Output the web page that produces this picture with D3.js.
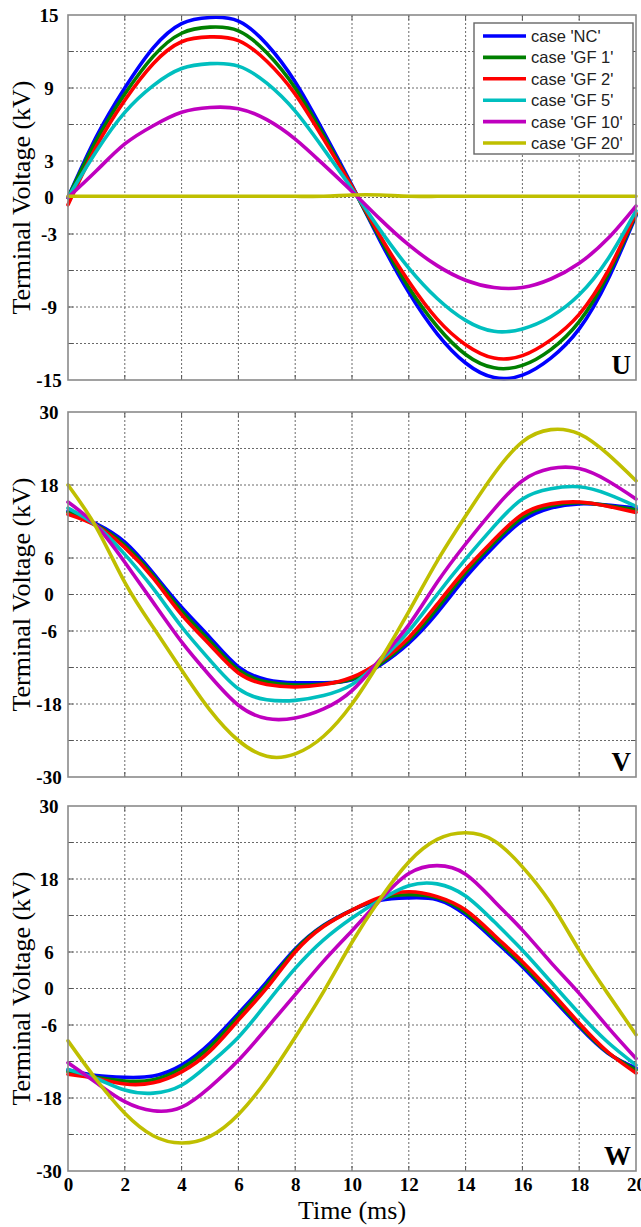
<!DOCTYPE html>
<html>
<head>
<meta charset="utf-8">
<script src="https://cdn.jsdelivr.net/npm/d3@7"></script>
<style>
  body { margin: 0; background: #ffffff; }
  svg { display: block; }
</style>
</head>
<body>
<svg id="chart"></svg>
<script>
// time samples (ms), read every 1 ms off the picture
const time = [0, 1, 2, 3, 4, 5, 6, 7, 8, 9, 10, 11, 12, 13, 14, 15, 16, 17, 18, 19, 20];

const cases = ["case 'NC'", "case 'GF 1'", "case 'GF 2'", "case 'GF 5'", "case 'GF 10'", "case 'GF 20'"];

// phase U (kV)
const uNC   = [0, 5.0, 9.0, 12.3, 14.3, 14.8, 14.5, 12.6, 9.5, 5.4, 1.0, -3.6, -7.8, -11.2, -13.6, -14.8, -14.6, -13.2, -10.8, -6.8, -1.5];
const uGF1  = [0, 4.7, 8.5, 11.6, 13.5, 14.0, 13.7, 11.9, 9.0, 5.1, 0.9, -3.4, -7.4, -10.6, -12.9, -14.0, -13.8, -12.5, -10.2, -6.4, -1.4];
const uGF2  = [-0.6, 4.2, 8.0, 11.0, 12.8, 13.2, 12.9, 11.2, 8.5, 4.8, 0.9, -3.2, -6.9, -10.0, -12.1, -13.2, -13.0, -11.7, -9.6, -6.1, -1.3];
const uGF5  = [0, 3.8, 7.0, 9.2, 10.6, 11.0, 10.8, 9.4, 7.1, 4.0, 0.7, -2.7, -5.8, -8.3, -10.1, -11.0, -10.8, -9.8, -8.0, -5.1, -1.1];
const uGF10 = [0, 2.2, 4.4, 5.9, 7.0, 7.4, 7.3, 6.4, 4.8, 2.7, 0.5, -1.8, -3.9, -5.6, -6.8, -7.4, -7.4, -6.7, -5.4, -3.4, -0.7];
const uGF20 = [0.1, 0.1, 0.1, 0.1, 0.1, 0.1, 0.1, 0.1, 0.1, 0.1, 0.2, 0.2, 0.1, 0.1, 0.1, 0.1, 0.1, 0.1, 0.1, 0.1, 0.1];

// phase V (kV)
const vNC   = [13.7, 11.6, 8.6, 3.5, -2.1, -7.1, -11.9, -14.0, -14.5, -14.5, -14.0, -11.6, -8.0, -3.0, 2.8, 7.9, 12.1, 14.2, 14.9, 14.7, 14.2];
const vGF1  = [13.5, 11.4, 8.1, 3.1, -2.7, -7.7, -12.4, -14.4, -14.9, -14.7, -13.9, -11.4, -7.5, -2.3, 3.6, 8.5, 12.7, 14.6, 15.1, 14.6, 13.9];
const vGF2  = [13.2, 11.3, 7.7, 2.7, -3.3, -8.3, -12.9, -14.8, -15.2, -14.8, -13.6, -11.0, -7.1, -1.6, 4.1, 9.0, 13.2, 14.9, 15.2, 14.5, 13.5];
const vGF5  = [14.2, 11.3, 6.6, 1.0, -5.3, -10.8, -15.5, -17.3, -17.4, -16.6, -14.8, -10.9, -6.0, 0.0, 5.8, 11.2, 15.7, 17.4, 17.7, 16.5, 14.5];
const vGF10 = [15.2, 11.3, 5.3, -1.3, -7.8, -13.4, -18.2, -20.4, -20.3, -18.8, -15.8, -10.6, -5.0, 2.0, 8.3, 14.0, 18.7, 20.7, 20.7, 18.7, 15.7];
const vGF20 = [18.0, 11.0, 2.0, -5.4, -12.4, -19.0, -24.0, -26.6, -26.2, -23.3, -18.0, -10.8, -2.8, 5.5, 12.9, 19.8, 25.1, 27.1, 26.4, 23.1, 18.7];

// phase W (kV)
const wNC   = [-13.4, -14.3, -14.6, -14.4, -12.6, -9.0, -4.1, 1.1, 6.5, 10.4, 12.9, 14.5, 14.9, 14.6, 12.1, 8.0, 3.6, -1.3, -6.3, -10.6, -13.1];
const wGF1  = [-13.7, -14.6, -15.2, -15.0, -13.1, -9.6, -4.6, 0.6, 6.3, 10.3, 12.9, 14.8, 15.4, 14.9, 12.5, 8.4, 4.0, -0.9, -6.0, -10.5, -13.4];
const wGF2  = [-14.1, -14.8, -15.7, -15.5, -13.7, -10.3, -5.2, 0.1, 6.0, 10.2, 12.9, 15.0, 15.9, 15.1, 12.9, 8.8, 4.4, -0.5, -5.7, -10.4, -13.9];
const wGF5  = [-13.3, -14.8, -16.7, -17.2, -15.9, -12.3, -8.0, -2.4, 3.3, 8.0, 11.6, 14.6, 16.9, 17.2, 15.2, 11.0, 6.3, 1.1, -4.1, -8.8, -12.6];
const wGF10 = [-12.2, -15.5, -18.6, -20.1, -19.5, -16.2, -11.8, -6.5, -1.0, 4.5, 9.5, 14.6, 18.9, 20.2, 18.8, 14.4, 9.6, 4.3, -0.8, -6.3, -11.5];
const wGF20 = [-8.6, -15.0, -20.5, -24.2, -25.4, -24.3, -20.7, -15.0, -8.0, -0.5, 7.6, 14.8, 20.8, 24.5, 25.6, 24.3, 20.0, 14.0, 6.3, -0.8, -7.6];

// tick labels
const uTicks = [-15, -9, -3, 0, 3, 9, 15];
const vwTicks = [-30, -18, -6, 0, 6, 18, 30];
const timeTicks = [0, 2, 4, 6, 8, 10, 12, 14, 16, 18, 20];

const layout = {
  width: 641,
  height: 1227,
  marginLeft: 68,
  marginRight: 5,
  panels: [{top: 15, bottom: 380}, {top: 412, bottom: 777}, {top: 806, bottom: 1171}]
};

const serif = "'Liberation Serif', 'Times New Roman', serif";
const sans = "'Liberation Sans', Arial, sans-serif";

const phases = [
  {name: "U", series: [uNC, uGF1, uGF2, uGF5, uGF10, uGF20], limit: 15, step: 3, ticks: uTicks},
  {name: "V", series: [vNC, vGF1, vGF2, vGF5, vGF10, vGF20], limit: 30, step: 6, ticks: vwTicks},
  {name: "W", series: [wNC, wGF1, wGF2, wGF5, wGF10, wGF20], limit: 30, step: 6, ticks: vwTicks}
];

const svg = d3.select("#chart")
  .attr("width", layout.width)
  .attr("height", layout.height);

const xScale = d3.scaleLinear()
  .domain([0, 20])
  .range([layout.marginLeft, layout.width - layout.marginRight]);

const colorScale = d3.scaleOrdinal()
  .domain(cases)
  .range(["#0000ff", "#008000", "#ff0000", "#00bfbf", "#bf00bf", "#bfbf00"]);

phases.forEach((p, i) => {
  const box = layout.panels[i];
  const x0 = xScale.range()[0], x1 = xScale.range()[1];

  const yScale = d3.scaleLinear()
    .domain([-p.limit, p.limit])
    .range([box.bottom, box.top]);

  const g = svg.append("g").attr("class", "panel-" + p.name);

  // dotted grid
  g.selectAll(".vgrid")
    .data(timeTicks.slice(1, -1))
    .join("line")
    .attr("class", "vgrid")
    .attr("x1", d => xScale(d)).attr("x2", d => xScale(d))
    .attr("y1", box.top).attr("y2", box.bottom)
    .attr("stroke", "#6a6a6a").attr("stroke-width", 1)
    .attr("stroke-dasharray", "2,2");

  const gridY = d3.range(-p.limit + p.step, p.limit, p.step);
  g.selectAll(".hgrid")
    .data(gridY)
    .join("line")
    .attr("class", "hgrid")
    .attr("x1", x0).attr("x2", x1)
    .attr("y1", d => yScale(d)).attr("y2", d => yScale(d))
    .attr("stroke", "#6a6a6a").attr("stroke-width", 1)
    .attr("stroke-dasharray", "2,2");

  // inner ticks on the frame
  const tickLen = 5;
  g.selectAll(".xtick")
    .data(timeTicks.slice(1, -1))
    .join("path")
    .attr("class", "xtick")
    .attr("d", d => `M${xScale(d)},${box.bottom}v${-tickLen}M${xScale(d)},${box.top}v${tickLen}`)
    .attr("stroke", "#555").attr("stroke-width", 1);
  g.selectAll(".ytick")
    .data(gridY)
    .join("path")
    .attr("class", "ytick")
    .attr("d", d => `M${x0},${yScale(d)}h${tickLen}M${x1},${yScale(d)}h${-tickLen}`)
    .attr("stroke", "#555").attr("stroke-width", 1);

  // curves
  const line = d3.line()
    .x((d, j) => xScale(time[j]))
    .y(d => yScale(d))
    .curve(d3.curveNatural);

  g.selectAll(".curve")
    .data(p.series)
    .join("path")
    .attr("class", "curve")
    .attr("d", line)
    .attr("fill", "none")
    .attr("stroke", (d, j) => colorScale(cases[j]))
    .attr("stroke-width", 3.6)
    .attr("stroke-linejoin", "round")
    .attr("stroke-linecap", "round");

  // frame
  g.append("rect")
    .attr("x", x0).attr("y", box.top)
    .attr("width", x1 - x0).attr("height", box.bottom - box.top)
    .attr("fill", "none")
    .attr("stroke", "#8a8a8a").attr("stroke-width", 1.6);

  // y tick labels
  const yAxis = g.append("g")
    .attr("transform", `translate(${x0},0)`)
    .call(d3.axisLeft(yScale).tickValues(p.ticks).tickSize(0).tickFormat(d => String(d)));
  yAxis.select(".domain").remove();
  yAxis.selectAll("text")
    .attr("x", -19)
    .attr("text-anchor", "middle")
    .attr("fill", "#000")
    .style("font-family", serif)
    .style("font-weight", "bold")
    .style("font-size", "19px");

  // y title
  g.append("text")
    .attr("transform", `translate(30, ${(box.top + box.bottom) / 2}) rotate(-90)`)
    .attr("text-anchor", "middle")
    .attr("fill", "#000")
    .style("font-family", serif)
    .style("font-size", "26px")
    .text("Terminal Voltage (kV)");

  // phase label
  g.append("text")
    .attr("x", x1 - 5)
    .attr("y", box.bottom - 6)
    .attr("text-anchor", "end")
    .attr("fill", "#000")
    .style("font-family", serif)
    .style("font-weight", "bold")
    .style("font-size", "27px")
    .text(p.name);

  // x axis labels only under the last panel
  if (i === phases.length - 1) {
    const xAxis = g.append("g")
      .attr("transform", `translate(0,${box.bottom})`)
      .call(d3.axisBottom(xScale).tickValues(timeTicks).tickSize(0).tickPadding(7).tickFormat(d => String(d)));
    xAxis.select(".domain").remove();
    xAxis.selectAll("text")
      .attr("fill", "#000")
      .style("font-family", serif)
      .style("font-weight", "bold")
      .style("font-size", "19px");

    g.append("text")
      .attr("x", (x0 + x1) / 2)
      .attr("y", box.bottom + 48)
      .attr("text-anchor", "middle")
      .attr("fill", "#000")
      .style("font-family", serif)
      .style("font-size", "26px")
      .text("Time (ms)");
  }

  // legend in the first panel
  if (i === 0) {
    const legend = g.append("g").attr("transform", "translate(474, 23)");
    legend.append("rect")
      .attr("width", 159).attr("height", 131)
      .attr("fill", "#fff")
      .attr("stroke", "#666").attr("stroke-width", 1.4);
    const rows = legend.selectAll(".legendRow")
      .data(cases)
      .join("g")
      .attr("class", "legendRow")
      .attr("transform", (d, j) => `translate(0, ${13 + j * 21.4})`);
    rows.append("line")
      .attr("x1", 9).attr("x2", 52)
      .attr("stroke", d => colorScale(d))
      .attr("stroke-width", 3.6);
    rows.append("text")
      .attr("x", 57)
      .attr("dy", "0.36em")
      .attr("fill", "#222")
      .style("font-family", sans)
      .style("font-size", "16.5px")
      .text(d => d);
  }
});
</script>
</body>
</html>
